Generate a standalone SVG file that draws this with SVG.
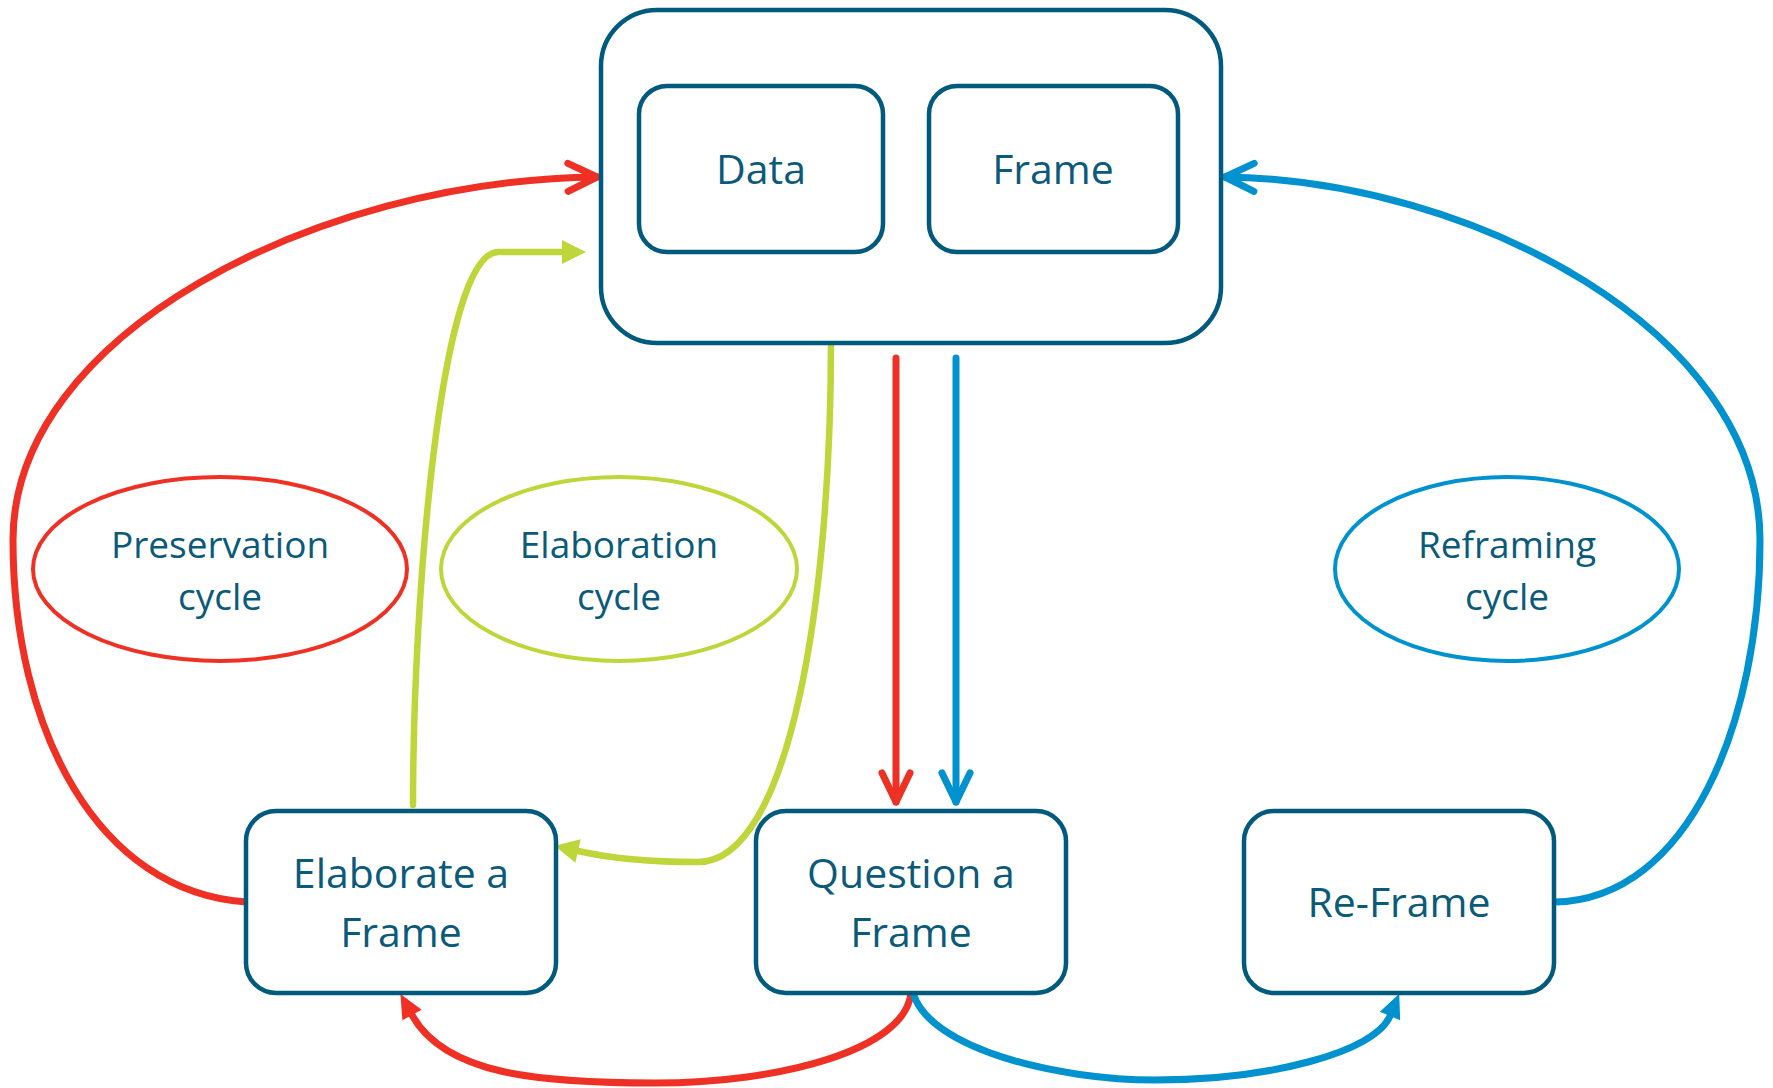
<svg xmlns="http://www.w3.org/2000/svg" width="1773" height="1088" viewBox="0 0 1773 1088">
  <style>
    .box { fill: #ffffff; stroke: #005A7D; stroke-width: 4.5; }
    .label { font-family: "Open Sans", "Noto Sans", "Liberation Sans", sans-serif; fill: #0B5A7A; text-anchor: middle; }
    .big { font-size: 41px; }
    .small { font-size: 37px; }
    .cycle { fill: none; stroke-width: 4; }
    .wire { fill: none; stroke-linecap: round; stroke-linejoin: round; }
    .red { stroke: #EE3124; }
    .green { stroke: #BED63A; }
    .blue { stroke: #0092CF; }
  </style>
  <defs>
    <!-- open chevron heads -->
    <marker id="chev-red" markerUnits="userSpaceOnUse" viewBox="-40 -22 48 44" markerWidth="48" markerHeight="44" refX="0" refY="0" orient="auto">
      <path d="M-29,-14 L0,0 L-29,14" fill="none" stroke="#EE3124" stroke-width="7" stroke-linecap="round" stroke-linejoin="round"/>
    </marker>
    <marker id="chev-blue" markerUnits="userSpaceOnUse" viewBox="-40 -22 48 44" markerWidth="48" markerHeight="44" refX="0" refY="0" orient="auto">
      <path d="M-29,-14 L0,0 L-29,14" fill="none" stroke="#0092CF" stroke-width="7" stroke-linecap="round" stroke-linejoin="round"/>
    </marker>
    <!-- filled triangle heads -->
    <marker id="tri-red" markerUnits="userSpaceOnUse" viewBox="-2 -14 30 28" markerWidth="30" markerHeight="28" refX="0" refY="0" orient="auto">
      <path d="M0,-11 L24,0 L0,11 Z" fill="#EE3124"/>
    </marker>
    <marker id="tri-blue" markerUnits="userSpaceOnUse" viewBox="-2 -14 30 28" markerWidth="30" markerHeight="28" refX="0" refY="0" orient="auto">
      <path d="M0,-11 L24,0 L0,11 Z" fill="#0092CF"/>
    </marker>
    <marker id="tri-green" markerUnits="userSpaceOnUse" viewBox="-2 -14 30 28" markerWidth="30" markerHeight="28" refX="0" refY="0" orient="auto">
      <path d="M0,-12 L24,0 L0,12 Z" fill="#BED63A"/>
    </marker>
  </defs>

  <rect width="1773" height="1088" fill="#ffffff"/>

  <!-- connectors -->
  <g id="connectors">
    <!-- preservation loop -->
    <path class="wire red" stroke-width="7" d="M246,902 C 98,892 13,730 13,540 C 13,335 315,180 597,177" marker-end="url(#chev-red)"/>
    <path class="wire red" stroke-width="7" d="M896,358 L896,802" marker-end="url(#chev-red)"/>
    <path class="wire red" stroke-width="7" d="M911,993 C 905,1050 780,1083 655,1083 C 540,1083 445,1075 412,1015" marker-end="url(#tri-red)"/>
    <!-- elaboration loop -->
    <path class="wire green" stroke-width="6.5" d="M413,805 C 413,600 440,253 498,252 L562,252" marker-end="url(#tri-green)"/>
    <path class="wire green" stroke-width="6.5" d="M831,341 C 831,600 790,862 698,862 C 640,862 600,856 578,851" marker-end="url(#tri-green)"/>
    <!-- reframing loop -->
    <path class="wire blue" stroke-width="7" d="M956,358 L956,802" marker-end="url(#chev-blue)"/>
    <path class="wire blue" stroke-width="7" d="M913,993 C 930,1050 1060,1080 1155,1080 C 1270,1080 1375,1052 1390,1016" marker-end="url(#tri-blue)"/>
    <path class="wire blue" stroke-width="7" d="M1554,902 C 1690,900 1760,720 1760,540 C 1760,330 1470,180 1225,177" marker-end="url(#chev-blue)"/>
  </g>

  <!-- sensemaking container with its two parts -->
  <g id="container">
    <rect class="box" x="601" y="10" width="620" height="333" rx="56" ry="56"/>
  </g>
  <g id="data">
    <rect class="box" x="639" y="86" width="244" height="166" rx="28" ry="28"/>
    <text class="label big" x="761" y="184">Data</text>
  </g>
  <g id="frame">
    <rect class="box" x="929" y="86" width="249" height="166" rx="28" ry="28"/>
    <text class="label big" x="1053" y="184">Frame</text>
  </g>

  <!-- cycle labels -->
  <g id="preservation-cycle">
    <ellipse class="cycle red" cx="220" cy="569" rx="187" ry="92"/>
    <text class="label small" x="220" y="558">Preservation</text>
    <text class="label small" x="220" y="610">cycle</text>
  </g>
  <g id="elaboration-cycle">
    <ellipse class="cycle green" cx="619" cy="569" rx="178" ry="92"/>
    <text class="label small" x="619" y="558">Elaboration</text>
    <text class="label small" x="619" y="610">cycle</text>
  </g>
  <g id="reframing-cycle">
    <ellipse class="cycle blue" cx="1507" cy="569" rx="172" ry="92"/>
    <text class="label small" x="1507" y="558">Reframing</text>
    <text class="label small" x="1507" y="610">cycle</text>
  </g>

  <!-- actions -->
  <g id="elaborate">
    <rect class="box" x="246" y="811" width="310" height="182" rx="30" ry="30"/>
    <text class="label big" x="401" y="888">Elaborate a</text>
    <text class="label big" x="401" y="947">Frame</text>
  </g>
  <g id="question">
    <rect class="box" x="756" y="811" width="310" height="182" rx="30" ry="30"/>
    <text class="label big" x="911" y="888">Question a</text>
    <text class="label big" x="911" y="947">Frame</text>
  </g>
  <g id="reframe">
    <rect class="box" x="1244" y="811" width="310" height="182" rx="30" ry="30"/>
    <text class="label big" x="1399" y="917">Re-Frame</text>
  </g>
</svg>
